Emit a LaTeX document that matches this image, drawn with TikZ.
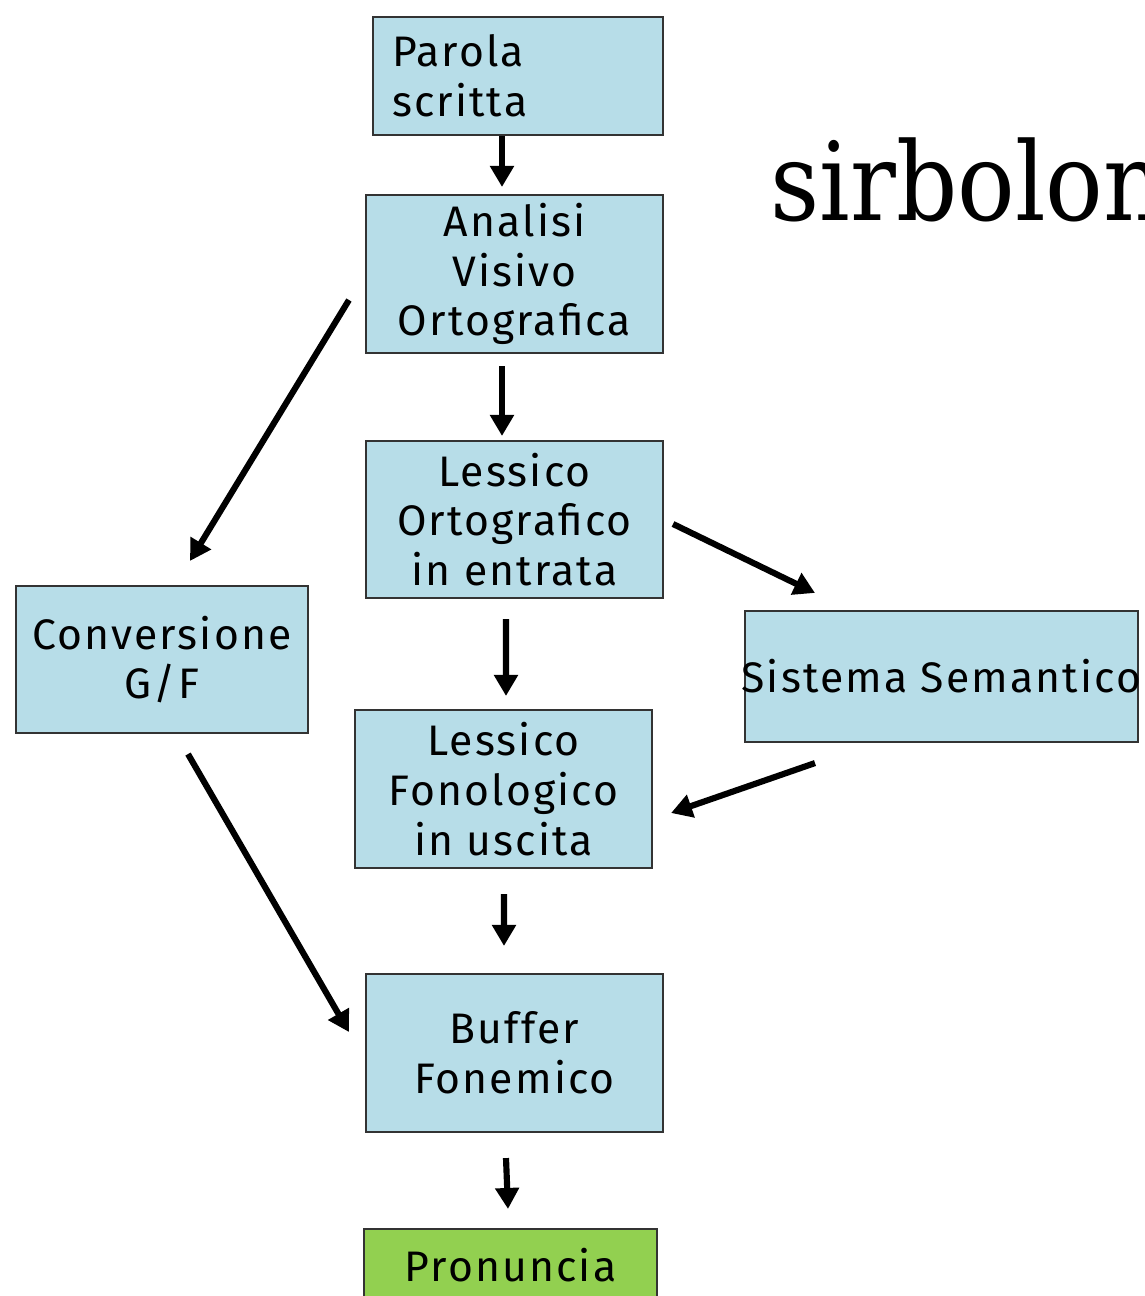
\documentclass[tikz,border=0pt]{standalone}
\usepackage{fontspec}
\setmainfont{Fira Sans}[LetterSpace=5]
\newfontfamily\slabfont{DejaVu Serif}
\usetikzlibrary{arrows.meta,calc}
\newdimen\pxu \pxu=0.02cm
\definecolor{boxblue}{RGB}{183,221,232}
\definecolor{boxgreen}{RGB}{146,208,80}
\tikzset{
  box/.style={draw=black!80, line width=1.2pt, fill=boxblue, rectangle,
    inner sep=0pt, align=center,
    font=\fontsize{24.3pt}{28.3pt}\selectfont},
  flow/.style={line width=3.5pt, -{Triangle[length=0.42cm,width=0.46cm]}},
}
\begin{document}
\begin{tikzpicture}[x=0.02cm,y=-0.02cm]
\useasboundingbox (0,0) rectangle (1145,1296);
\clip (0,0) rectangle (1145,1296);

% boxes
\node[box, minimum width=290\pxu, minimum height=118\pxu, text width=252\pxu,
      inner xsep=19\pxu, align=left] (parola) at (518,76) {Parola\\scritta};
\node[box, minimum width=297\pxu, minimum height=158\pxu] (analisi) at (514.5,274) {Analisi\\Visivo\\Ortografica};
\node[box, minimum width=297\pxu, minimum height=157\pxu] (lorto) at (514.5,519.5) {Lessico\\Ortografico\\in entrata};
\node[box, minimum width=292\pxu, minimum height=147\pxu] (conv) at (162,659.5) {Conversione\\G/F};
\node[box, minimum width=393\pxu, minimum height=131\pxu] (sist) at (941.5,676.5) {\makebox[0pt]{Sistema Semantico}};
\node[box, minimum width=297\pxu, minimum height=158\pxu] (lfono) at (503.5,789) {Lessico\\Fonologico\\in uscita};
\node[box, minimum width=297\pxu, minimum height=158\pxu] (buffer) at (514.5,1053) {Buffer\\Fonemico};
\node[box, fill=boxgreen, minimum width=293\pxu, minimum height=73\pxu] (pron) at (510.5,1265.5) {Pronuncia};

% title word, running off the right edge
\node[anchor=base west, inner sep=0pt, font=\slabfont\fontsize{62pt}{70pt}\selectfont] (title) at (770,220)
  {\scalebox{0.88}[1]{sirbolon}};

% connectors
\draw[flow] ($(parola.south)+(-16,0)$) -- ($(analisi.north)+(-12.5,-7)$);
\draw[flow] ($(analisi.south)+(-12.5,12)$) -- ($(lorto.north)+(-12.5,-4)$);
\draw[flow] ($(analisi.west)+(-16,26)$) -- ($(conv.north)+(28,-24)$);
\draw[flow] ($(lorto.east)+(9,4.5)$) -- ($(sist.north)+(-126.5,-17)$);
\draw[flow] ($(lorto.south)+(-8.5,20)$) -- ($(lfono.north)+(2.5,-13)$);
\draw[flow] ($(sist.south)+(-126.5,20)$) -- ($(lfono.east)+(18,24)$);
\draw[flow] ($(conv.south)+(26,20)$) -- ($(buffer.west)+(-16,-21)$);
\draw[flow] ($(lfono.south)+(0.5,25)$) -- ($(buffer.north)+(-10.5,-27)$);
\draw[flow] ($(buffer.south)+(-8.5,25)$) -- ($(pron.north)+(-2.5,-19)$);
\end{tikzpicture}
\end{document}
